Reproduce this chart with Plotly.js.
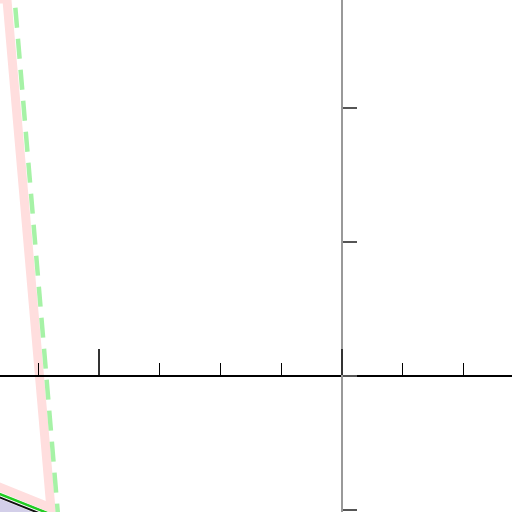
<!DOCTYPE html>
<html>
<head>
<meta charset="utf-8">
<script src="https://cdn.plot.ly/plotly-3.0.1.min.js"></script>
<style>html,body{margin:0;padding:0;background:#fff;}#chart{width:512px;height:512px;}</style>
</head>
<body>
<div id="chart"></div>
<script>
// Series values (data units; axes cross at 0,0)
const pinkX = [-1.572, -1.379, -1.198, -1.531];
const pinkY = [2.813, 2.813, -0.985, -0.739];
const dashX = [-1.355, -1.160];
const dashY = [2.979, -1.224];
const greenX = [-1.490, -1.119];
const greenY = [-0.821, -1.090];
const blackX = [-1.490, -1.119];
const blackY = [-0.847, -1.116];
const fillX = [-1.490, -1.119, -1.119, -1.490];
const fillY = [-0.858, -1.128, -1.40, -1.40];

const xRange = [-1.40741, 0.69959];
const yRange = [-1.01493, 2.80597];

const traces = [
  {x: fillX, y: fillY, mode: 'lines', fill: 'toself', fillcolor: 'rgba(200,195,228,0.8)', line: {width: 0}, hoverinfo: 'skip'},
  {x: blackX, y: blackY, mode: 'lines', line: {color: '#111111', width: 2}},
  {x: greenX, y: greenY, mode: 'lines', line: {color: '#22cc22', width: 2.5}},
  {x: pinkX, y: pinkY, mode: 'lines', line: {color: '#ffdede', width: 9}},
  {x: dashX, y: dashY, mode: 'lines', line: {color: '#a6f2a6', width: 4.5, dash: '20px,11.1px'}}
];

const layout = {
  width: 512, height: 512,
  margin: {l: 0, r: 0, t: 0, b: 0, pad: 0},
  paper_bgcolor: '#ffffff', plot_bgcolor: '#ffffff',
  showlegend: false,
  xaxis: {
    range: xRange, anchor: 'free', position: 136/512,
    showgrid: false, zeroline: false, showticklabels: false,
    showline: true, linecolor: '#000000', linewidth: 2,
    ticks: 'inside', ticklen: 26, tickwidth: 2, tickcolor: '#333333',
    dtick: 1, tick0: 0,
    minor: {dtick: 0.25, tick0: 0, ticks: 'inside', ticklen: 12, tickwidth: 1, tickcolor: '#000000', showgrid: false}
  },
  yaxis: {
    range: yRange, anchor: 'free', position: 342/512,
    showgrid: false, zeroline: false, showticklabels: false,
    showline: true, linecolor: '#999999', linewidth: 2,
    ticks: 'inside', ticklen: 14, tickwidth: 2, tickcolor: '#555555',
    dtick: 1, tick0: 0
  }
};

Plotly.newPlot('chart', traces, layout, {staticPlot: true, displayModeBar: false});
</script>
</body>
</html>
